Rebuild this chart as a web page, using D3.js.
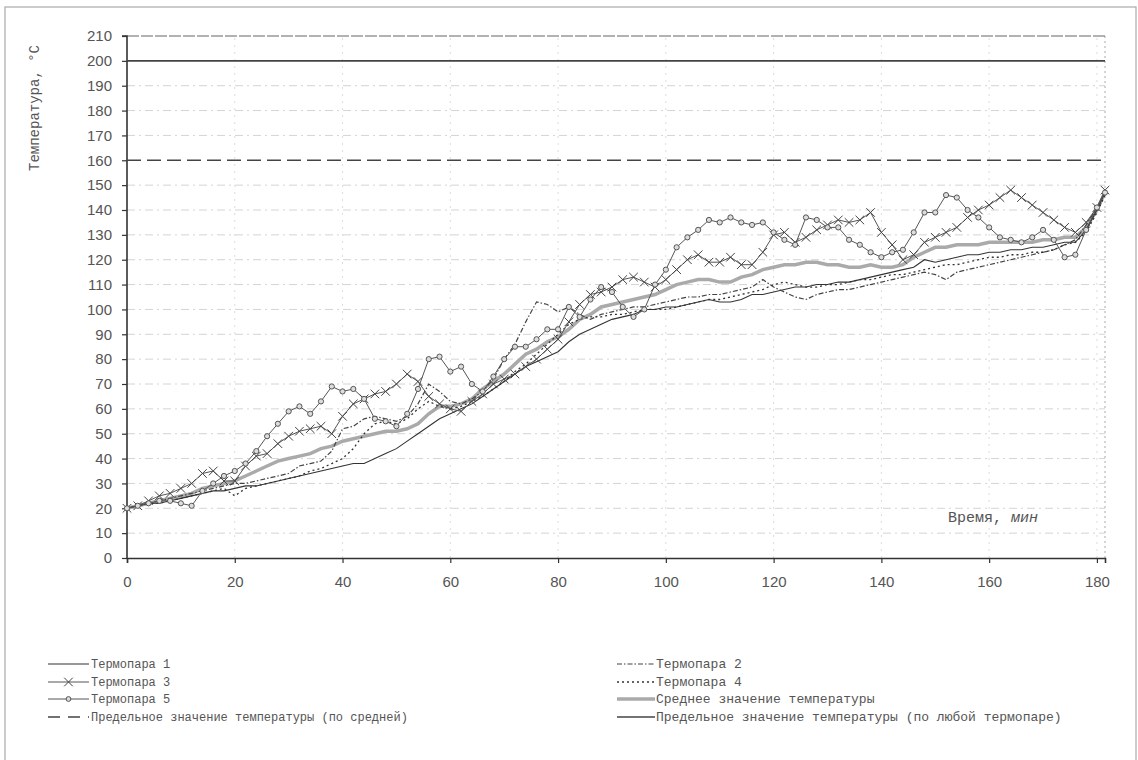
<!DOCTYPE html>
<html>
<head>
<meta charset="utf-8">
<script src="https://cdn.jsdelivr.net/npm/d3@7"></script>
<style>
  body { margin: 0; background: #fff; }
  svg { display: block; }
</style>
</head>
<body>
<div id="chart"></div>
<script>
// time, minutes
const times = [0,2,4,6,8,10,12,14,16,18,
  20,22,24,26,28,30,32,34,36,38,
  40,42,44,46,48,50,52,54,56,58,
  60,62,64,66,68,70,72,74,76,78,
  80,82,84,86,88,90,92,94,96,98,
  100,102,104,106,108,110,112,114,116,118,
  120,122,124,126,128,130,132,134,136,138,
  140,142,144,146,148,150,152,154,156,158,
  160,162,164,166,168,170,172,174,176,178,
  180,181.5];

const t1 = [20,21,22,22,23,24,25,26,27,27,
  28,29,29,30,31,32,33,34,35,36,
  37,38,38,40,42,44,47,50,53,56,
  58,60,62,65,68,71,74,77,79,81,
  83,87,90,92,94,96,97,98,100,100,
  101,101,102,103,104,103,103,104,106,106,
  107,108,109,109,110,110,111,111,112,113,
  114,115,116,117,120,119,120,121,122,122,
  123,123,124,124,125,125,126,127,127,132,
  140,147];

const t2 = [20,21,22,23,24,25,26,27,28,29,
  30,30,31,32,33,34,37,38,39,43,
  52,53,56,57,56,55,57,62,70,67,
  63,62,64,67,72,80,86,95,103,102,
  99,101,98,96,98,99,100,101,101,102,
  103,104,105,105,106,106,107,108,109,112,
  109,107,105,104,106,107,108,108,109,110,
  111,112,113,114,115,114,112,115,116,117,
  118,119,120,121,122,123,124,126,128,134,
  141,147];

const t3 = [20,21,23,25,26,28,30,34,35,31,
  31,37,41,42,46,49,51,52,53,50,
  57,62,64,66,67,70,74,71,65,62,
  60,59,63,66,70,72,74,77,80,84,
  88,95,102,106,107,109,112,113,111,109,
  112,116,120,122,119,119,121,118,118,123,
  130,131,127,129,132,134,136,135,136,139,
  131,126,120,122,127,129,131,133,137,140,
  142,145,148,145,142,139,136,133,131,135,
  141,148];

const t4 = [20,21,22,22,23,24,25,26,27,28,
  25,28,29,30,31,32,33,35,36,38,
  40,44,50,54,55,54,56,60,63,61,
  60,61,63,65,68,71,75,78,82,86,
  90,94,96,97,97,98,98,99,100,100,
  100,101,102,103,104,104,105,106,107,108,
  110,111,110,109,109,110,110,111,112,112,
  113,114,114,115,116,117,118,118,119,120,
  121,121,122,122,123,123,124,126,127,131,
  139,146];

const t5 = [20,21,22,23,23,22,21,27,30,33,
  35,38,43,49,54,59,61,58,63,69,
  67,68,64,56,55,53,58,68,80,81,
  75,77,70,67,73,80,85,85,88,92,
  92,101,97,104,109,107,101,97,100,110,
  116,125,129,132,136,135,137,135,134,135,
  131,128,126,137,136,133,133,128,126,123,
  121,123,124,131,139,139,146,145,140,137,
  133,129,128,127,129,132,128,121,122,132,
  141,147];

const avg = [20,21,22,23,24,25,26,28,29,30,
  31,33,35,37,39,40,41,42,44,45,
  47,48,49,50,51,51,52,54,58,61,
  61,62,64,68,71,74,78,82,84,87,
  89,92,96,98,101,102,103,104,105,106,
  108,110,111,112,112,111,111,113,114,116,
  117,118,118,119,119,118,118,117,117,118,
  117,117,118,121,123,125,125,126,126,126,
  127,127,127,127,127,128,128,129,129,133,
  140,147];

const limitAvg = 160;
const limitAny = 200;

const yTicks = [0,10,20,30,40,50,60,70,80,90,100,110,120,130,140,150,160,170,180,190,200,210];
const xTicks = [0,20,40,60,80,100,120,140,160,180];

const legendLeft = ["Термопара 1", "Термопара 3", "Термопара 5", "Предельное значение температуры (по средней)"];
const legendRight = ["Термопара 2", "Термопара 4", "Среднее значение температуры", "Предельное значение температуры (по любой термопаре)"];

const W = 1138, H = 760;
const svg = d3.select("#chart").append("svg").attr("width", W).attr("height", H);

// scanned page frame
svg.append("rect").attr("x", 5).attr("y", 7).attr("width", 1131).attr("height", 760)
  .attr("fill", "none").attr("stroke", "#aaa").attr("stroke-width", 1.2);

const x = d3.scaleLinear().domain([0, 181.5]).range([127, 1105]);
const y = d3.scaleLinear().domain([0, 210]).range([558, 36]);

// grid
svg.append("g").selectAll("line")
  .data(yTicks.filter(v => v > 0 && v < 210 && v !== limitAvg && v !== limitAny))
  .enter().append("line")
  .attr("x1", x(0)).attr("x2", x(181.5))
  .attr("y1", d => y(d)).attr("y2", d => y(d))
  .attr("stroke", "#d4d4d4").attr("stroke-width", 1).attr("stroke-dasharray", "8,4,2,4");

svg.append("g").selectAll("line")
  .data(xTicks.filter(v => v > 0))
  .enter().append("line")
  .attr("x1", d => x(d)).attr("x2", d => x(d))
  .attr("y1", y(0)).attr("y2", y(210))
  .attr("stroke", "#dcdcdc").attr("stroke-width", 1).attr("stroke-dasharray", "2,5");

// right edge and top edge
svg.append("line").attr("x1", x(181.5)).attr("x2", x(181.5)).attr("y1", y(0)).attr("y2", y(210))
  .attr("stroke", "#aaa").attr("stroke-dasharray", "2,3");
svg.append("line").attr("x1", x(0)).attr("x2", x(181.5)).attr("y1", y(210)).attr("y2", y(210))
  .attr("stroke", "#666").attr("stroke-width", 1.2).attr("stroke-dasharray", "12,2");

// axes
const yAxis = d3.axisLeft(y).tickValues(yTicks).tickSize(5).tickPadding(10);
const gy = svg.append("g").attr("transform", `translate(${x(0)},0)`).call(yAxis);
const xAxis = d3.axisBottom(x).tickValues(xTicks).tickSize(5).tickPadding(13);
const gx = svg.append("g").attr("transform", `translate(0,${y(0)})`).call(xAxis);
[gy, gx].forEach(g => {
  g.select(".domain").attr("stroke", "#333").attr("stroke-width", 1.6);
  g.selectAll(".tick line").attr("stroke", "#333").attr("stroke-width", 1.2);
  g.selectAll(".tick text").attr("fill", "#555").style("font-family", "Liberation Sans, Arial, sans-serif").style("font-size", "15px");
});
gy.select(".domain").attr("d", `M-5,${y(210)}H0V${y(0)}`);

// limit lines
const limitLine = v => d3.line()([[x(0), y(v)], [x(181.5), y(v)]]);
svg.append("path").attr("d", limitLine(limitAny)).attr("stroke", "#444").attr("stroke-width", 1.6).attr("fill", "none");
svg.append("path").attr("d", limitLine(limitAvg)).attr("stroke", "#444").attr("stroke-width", 1.5).attr("fill", "none")
  .attr("stroke-dasharray", "14,6");

const line = d3.line().x((d, i) => x(times[i])).y(d => y(d));

const plot = svg.append("g");
plot.append("path").datum(avg).attr("d", line).attr("fill", "none").attr("stroke", "#aaa").attr("stroke-width", 3.5);
plot.append("path").datum(t1).attr("d", line).attr("fill", "none").attr("stroke", "#333").attr("stroke-width", 1.1);
plot.append("path").datum(t2).attr("d", line).attr("fill", "none").attr("stroke", "#444").attr("stroke-width", 1.2)
  .attr("stroke-dasharray", "5,2,1.5,2");
plot.append("path").datum(t4).attr("d", line).attr("fill", "none").attr("stroke", "#333").attr("stroke-width", 1.3)
  .attr("stroke-dasharray", "2,3");
plot.append("path").datum(t3).attr("d", line).attr("fill", "none").attr("stroke", "#555").attr("stroke-width", 1);
plot.append("path").datum(t5).attr("d", line).attr("fill", "none").attr("stroke", "#555").attr("stroke-width", 1);

const cross = d3.symbol().type(d3.symbolX).size(50);
plot.append("g").selectAll("path").data(t3).enter().append("path")
  .attr("d", cross)
  .attr("transform", (d, i) => `translate(${x(times[i])},${y(d)})`)
  .attr("stroke", "#444").attr("stroke-width", 1).attr("fill", "none");
plot.append("g").selectAll("circle").data(t5).enter().append("circle")
  .attr("cx", (d, i) => x(times[i])).attr("cy", d => y(d)).attr("r", 2.6)
  .attr("fill", "#ddd").attr("stroke", "#555").attr("stroke-width", 1);

// axis titles
svg.append("text").attr("transform", "translate(39,108) rotate(-90)")
  .attr("text-anchor", "middle").attr("fill", "#555")
  .style("font-family", "Liberation Mono, Courier New, monospace").style("font-size", "14px")
  .text("Температура, °С");

const xt = svg.append("text").attr("x", 948).attr("y", 522).attr("fill", "#555")
  .style("font-family", "Liberation Mono, Courier New, monospace").style("font-size", "15px");
xt.append("tspan").text("Время, ");
xt.append("tspan").style("font-style", "italic").text("мин");

// legend
const legendFont = "Liberation Mono, Courier New, monospace";
const rowY = [664, 682, 699, 717];
function sample(g, x0, x1, yy, kind) {
  const seg = g.append("line").attr("x1", x0).attr("x2", x1).attr("y1", yy).attr("y2", yy).attr("fill", "none");
  if (kind === "t1") seg.attr("stroke", "#333").attr("stroke-width", 1.1);
  if (kind === "t3" || kind === "t5") seg.attr("stroke", "#555").attr("stroke-width", 1);
  if (kind === "lavg") seg.attr("stroke", "#444").attr("stroke-width", 1.5).attr("stroke-dasharray", "12,8");
  if (kind === "t2") seg.attr("stroke", "#444").attr("stroke-width", 1.2).attr("stroke-dasharray", "5,2,1.5,2");
  if (kind === "t4") seg.attr("stroke", "#333").attr("stroke-width", 1.3).attr("stroke-dasharray", "2,3");
  if (kind === "avg") seg.attr("stroke", "#aaa").attr("stroke-width", 3.5);
  if (kind === "lany") seg.attr("stroke", "#444").attr("stroke-width", 1.6);
  const mx = (x0 + x1) / 2;
  if (kind === "t3") g.append("path").attr("d", cross).attr("transform", `translate(${mx},${yy})`)
    .attr("stroke", "#444").attr("fill", "none");
  if (kind === "t5") g.append("circle").attr("cx", mx).attr("cy", yy).attr("r", 2.4)
    .attr("fill", "#ddd").attr("stroke", "#555");
}
const leg = svg.append("g");
const leftKinds = ["t1", "t3", "t5", "lavg"];
const rightKinds = ["t2", "t4", "avg", "lany"];
legendLeft.forEach((txt, i) => {
  sample(leg, 48, 89, rowY[i], leftKinds[i]);
  leg.append("text").attr("x", 91).attr("y", rowY[i] + 4).text(txt)
    .attr("fill", "#555").style("font-family", legendFont).style("font-size", "12px");
});
legendRight.forEach((txt, i) => {
  sample(leg, 617, 655, rowY[i], rightKinds[i]);
  leg.append("text").attr("x", 656).attr("y", rowY[i] + 4).text(txt)
    .attr("fill", "#555").style("font-family", legendFont).style("font-size", "13px");
});
</script>
</body>
</html>
